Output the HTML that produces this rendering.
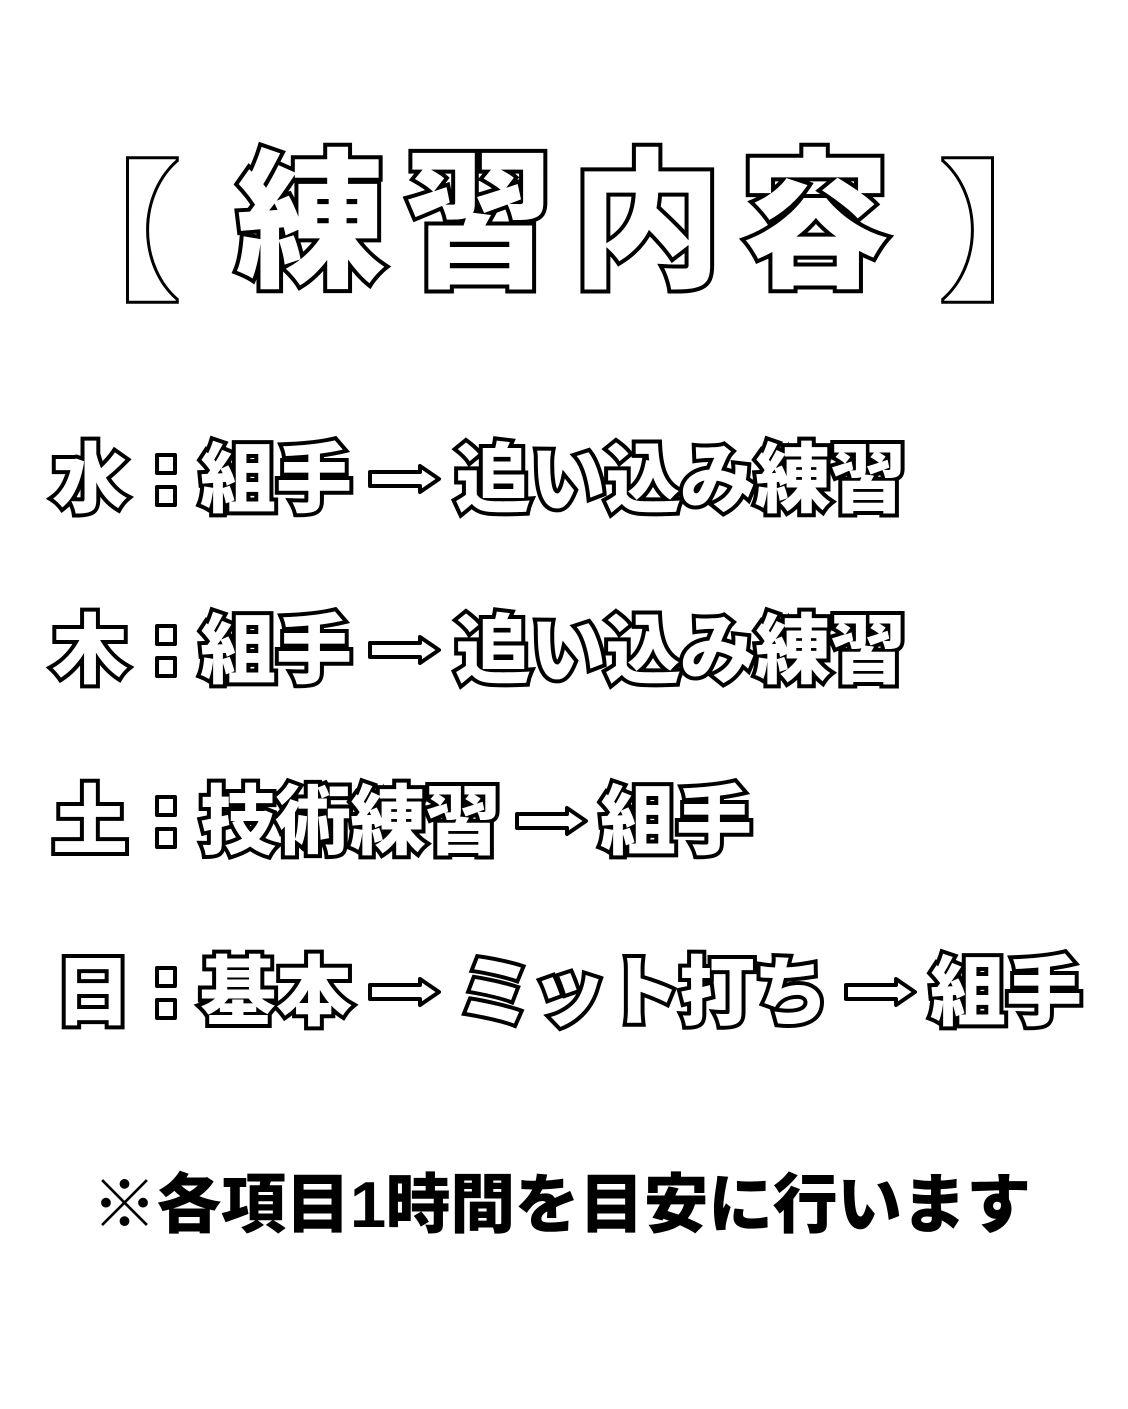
<!DOCTYPE html>
<html><head><meta charset="utf-8"><style>
html,body{margin:0;padding:0;background:#fff;}
#c{position:relative;width:1128px;height:1409px;overflow:hidden;background:#fff;font-family:"Liberation Sans","Noto Sans CJK JP",sans-serif;font-weight:900;}
.o{position:absolute;color:#fff;-webkit-text-stroke:8px #000;paint-order:stroke fill;white-space:nowrap;line-height:1;}
.t{font-size:150px;top:148px;}
.r{font-size:76px;}
.f{position:absolute;font-size:65px;color:#000;top:1172px;left:92px;white-space:nowrap;line-height:1;letter-spacing:-0.5px;}
.b{position:absolute;width:14px;height:14px;border:4px solid #000;background:#fff;border-radius:2px;}
svg{position:absolute;left:0;top:0;}
</style></head><body><div id="c">
<div class="o t" style="left:30px;font-family:'Noto Sans CJK JP',sans-serif;font-weight:700;-webkit-text-stroke:6px #000">【</div>
<div class="o t" style="left:236px;letter-spacing:18px">練習内容</div>
<div class="o t" style="left:940px;font-family:'Noto Sans CJK JP',sans-serif;font-weight:700;-webkit-text-stroke:6px #000">】</div>

<div class="o r" style="top:443px;left:52px">水</div>
<div class="o r" style="top:443px;left:200px">組手</div>
<div class="o r" style="top:443px;left:455px;letter-spacing:-1px">追い込み練習</div>

<div class="o r" style="top:614px;left:52px">木</div>
<div class="o r" style="top:614px;left:200px">組手</div>
<div class="o r" style="top:614px;left:455px;letter-spacing:-1px">追い込み練習</div>

<div class="o r" style="top:785px;left:52px">土</div>
<div class="o r" style="top:785px;left:200px;letter-spacing:-1px">技術練習</div>
<div class="o r" style="top:785px;left:600px">組手</div>

<div class="o r" style="top:956px;left:55px">日</div>
<div class="o r" style="top:956px;left:200px">基本</div>
<div class="o r" style="top:956px;left:457px;letter-spacing:-2px">ミット打ち</div>
<div class="o r" style="top:956px;left:930px">組手</div>

<div class="b" style="left:155px;top:453px"></div><div class="b" style="left:155px;top:485px"></div>
<div class="b" style="left:155px;top:624px"></div><div class="b" style="left:155px;top:656px"></div>
<div class="b" style="left:155px;top:795px"></div><div class="b" style="left:155px;top:827px"></div>
<div class="b" style="left:155px;top:966px"></div><div class="b" style="left:155px;top:998px"></div>

<svg width="1128" height="1409">
<defs><path id="ar" d="M0,-7 H50 V-13 L69,0 L50,13 V7 H0 Z" fill="#fff" stroke="#000" stroke-width="4" stroke-linejoin="round"/></defs>
<use href="#ar" x="370" y="479"/>
<use href="#ar" x="370" y="650"/>
<use href="#ar" x="517" y="821"/>
<use href="#ar" x="370" y="992"/>
<use href="#ar" x="846" y="992"/>
</svg>

<div class="f">※各項目1時間を目安に行います</div>
</div></body></html>
